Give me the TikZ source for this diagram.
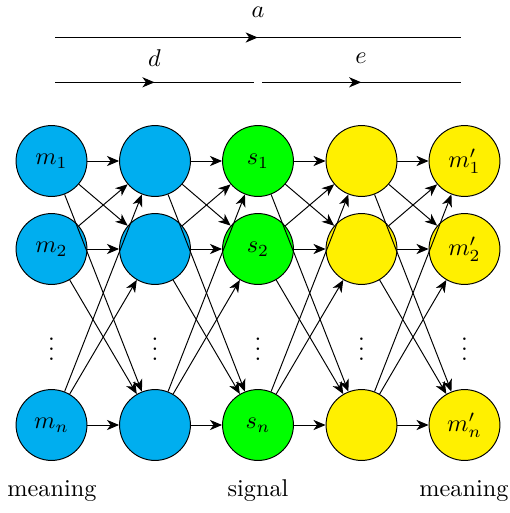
\documentclass[tikz,border=0pt]{standalone}
\usetikzlibrary{arrows.meta,decorations.markings}
\definecolor{nodeblue}{RGB}{0,174,239}
\definecolor{nodegreen}{RGB}{0,255,0}
\definecolor{nodeyellow}{RGB}{255,240,0}
\tikzset{
  unit/.style={circle,draw=black,minimum size=29.2pt,inner sep=0pt},
  bluenode/.style={unit,fill=nodeblue},
  greennode/.style={unit,fill=nodegreen},
  yellownode/.style={unit,fill=nodeyellow},
  conn/.style={-{Stealth[length=5pt,width=4.2pt,inset=1.5pt]}},
  midarrow/.style={postaction={decorate},decoration={markings,mark=at position 0.5 with {\arrow{Stealth[length=5pt,width=4.2pt,inset=1.5pt]}}}}
}
\begin{document}
\begin{tikzpicture}[x=0.412pt,y=-0.412pt]
\useasboundingbox (0,0) rectangle (509,513);
% top arrows
\coordinate (a1) at (55,37.5);
\coordinate (a2) at (460.5,37.5);
\coordinate (d1) at (55,82.3);
\coordinate (d2) at (254,82.3);
\coordinate (e1) at (262,82.3);
\coordinate (e2) at (460.5,82.3);
\draw[midarrow] (a1) -- (a2);
\draw[midarrow] (d1) -- (d2);
\draw[midarrow] (e1) -- (e2);
\node (la) at (258,12.5) {$a$};
\node (ld) at (154.5,58) {$d$};
\node (le) at (361,58) {$e$};
% nodes
\foreach \c/\x/\st in {1/51.5/bluenode,2/155/bluenode,3/258/greennode,4/361.5/yellownode,5/464.5/yellownode}{
  \node[\st] (n\c-1) at (\x,161) {};
  \node[\st] (n\c-2) at (\x,249) {};
  \node[\st] (n\c-n) at (\x,425) {};
  \node (dots\c) at (\x,342) {$\vdots$};
}
\node at (n1-1) {$m_1$};
\node at (n1-2) {$m_2$};
\node at (n1-n) {$m_n$};
\node at (n3-1) {$s_1$};
\node at (n3-2) {$s_2$};
\node at (n3-n) {$s_n$};
\node at (n5-1) {$m'_1$};
\node at (n5-2) {$m'_2$};
\node at (n5-n) {$m'_n$};
% connections
\foreach \c/\d in {1/2,2/3,3/4,4/5}{
  \foreach \i in {1,2,n}{
    \foreach \j in {1,2,n}{
      \draw[conn] (n\c-\i) -- (n\d-\j);
    }
  }
}
% labels
\node (lm1) at (52,491) {meaning};
\node (ls) at (258,491) {signal};
\node (lm2) at (464,491) {meaning};
\end{tikzpicture}
\end{document}
